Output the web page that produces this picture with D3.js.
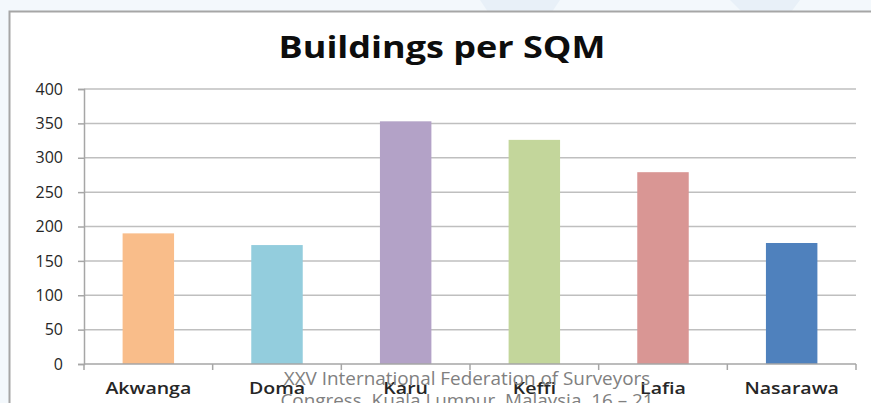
<!DOCTYPE html>
<html>
<head>
<meta charset="utf-8">
<script src="https://cdn.jsdelivr.net/npm/d3@7/dist/d3.min.js"></script>
<style>
  body { margin: 0; background: #f3f8fc; }
  svg { display: block; }
</style>
</head>
<body>
<div id="chart"></div>
<script>
// data
var categories = ["Akwanga", "Doma", "Karu", "Keffi", "Lafia", "Nasarawa"];
var values = [190, 173, 353, 326, 279, 176];
var colors = ["#f9bd8a", "#93cddd", "#b3a2c7", "#c3d69b", "#d99694", "#4f81bd"];
var yTicks = [0, 50, 100, 150, 200, 250, 300, 350, 400];
var footerLines = ["XXV International Federation of Surveyors", "Congress, Kuala Lumpur, Malaysia, 16 \u2013 21"];

var W = 871, H = 403;
var margin = {top: 89, right: 15, bottom: 39, left: 84};
var width = W - margin.left - margin.right;
var height = H - margin.top - margin.bottom;

var svg = d3.select("#chart")
  .append("svg")
    .attr("width", W)
    .attr("height", H);

// faint watermark shapes in the slide background
svg.append("path")
  .attr("d", "M480,0 L560,0 L520,60 Z")
  .attr("fill", "#e8f0f8");
svg.append("path")
  .attr("d", "M730,0 L800,0 L770,40 Z")
  .attr("fill", "#e8f0f8");

// chart frame (runs off the right and bottom edges)
svg.append("rect")
  .attr("x", 9.5)
  .attr("y", 11.5)
  .attr("width", W + 20)
  .attr("height", H + 20)
  .attr("fill", "#ffffff")
  .attr("stroke", "#a6a6a6")
  .attr("stroke-width", 2);

// the slide image is squashed a bit, so text comes out wider than the font
function stretched(sel, cx, cy, k) {
  sel.attr("transform", "translate(" + cx + "," + cy + ") scale(" + k + ",1)");
}

svg.append("text")
  .call(stretched, 442, 58, 1.2)
  .attr("text-anchor", "middle")
  .style("font-family", "'Open Sans', sans-serif")
  .style("font-weight", "bold")
  .style("font-size", "30px")
  .attr("fill", "#0d0d0d")
  .text("Buildings per SQM");

var g = svg.append("g")
  .attr("transform", "translate(" + margin.left + "," + margin.top + ")");

var x = d3.scaleBand()
  .domain(categories)
  .range([0, width])
  .paddingInner(0.6)
  .paddingOuter(0.3);

var y = d3.scaleLinear()
  .domain([0, 400])
  .range([height, 0]);

// gridlines
g.append("g")
  .selectAll("line")
  .data(yTicks.filter(function(d) { return d > 0; }))
  .enter().append("line")
    .attr("x1", 0)
    .attr("x2", width)
    .attr("y1", function(d) { return y(d); })
    .attr("y2", function(d) { return y(d); })
    .attr("stroke", "#bfbfbf")
    .attr("stroke-width", 1.5);

// y axis
var yAxis = g.append("g")
  .call(d3.axisLeft(y).tickValues(yTicks).tickSize(6).tickPadding(15));
yAxis.select(".domain").attr("stroke", "#a6a6a6").attr("stroke-width", 1.5);
yAxis.selectAll(".tick line").attr("stroke", "#a6a6a6").attr("stroke-width", 1.5);
yAxis.selectAll("text")
  .attr("fill", "#262626")
  .style("font-family", "'Open Sans', sans-serif")
  .style("font-size", "16px");

// bars
g.selectAll(".bar")
  .data(values)
  .enter().append("rect")
    .attr("class", "bar")
    .attr("x", function(d, i) { return x(categories[i]); })
    .attr("width", x.bandwidth())
    .attr("y", function(d) { return y(d); })
    .attr("height", function(d) { return height - y(d); })
    .attr("fill", function(d, i) { return colors[i]; });

// x axis with ticks at category boundaries
var xEdge = d3.scaleLinear().domain([0, categories.length]).range([0, width]);
var xAxis = g.append("g")
  .attr("transform", "translate(0," + height + ")");
xAxis.append("line")
  .attr("x1", 0).attr("x2", width)
  .attr("stroke", "#a6a6a6").attr("stroke-width", 1.5);
xAxis.selectAll(".edge")
  .data(d3.range(categories.length + 1))
  .enter().append("line")
    .attr("class", "edge")
    .attr("x1", function(d) { return xEdge(d); })
    .attr("x2", function(d) { return xEdge(d); })
    .attr("y1", 0).attr("y2", 6)
    .attr("stroke", "#a6a6a6").attr("stroke-width", 1.5);
xAxis.selectAll(".cat")
  .data(categories)
  .enter().append("text")
    .attr("class", "cat")
    .each(function(d) {
      d3.select(this).call(stretched, x(d) + x.bandwidth() / 2, 30, 1.15);
    })
    .attr("text-anchor", "middle")
    .attr("fill", "#262626")
    .style("font-family", "'Open Sans', sans-serif")
    .style("font-weight", "600")
    .style("font-size", "17px")
    .text(function(d) { return d; });

// slide footer text overlapping the chart
svg.selectAll(".footer")
  .data(footerLines)
  .enter().append("text")
    .attr("class", "footer")
    .each(function(d, i) {
      d3.select(this).call(stretched, 467, 385 + i * 22, 1.05);
    })
    .attr("text-anchor", "middle")
    .attr("fill", "#808080")
    .style("font-family", "'Open Sans', sans-serif")
    .style("font-size", "18px")
    .text(function(d) { return d; });
</script>
</body>
</html>
